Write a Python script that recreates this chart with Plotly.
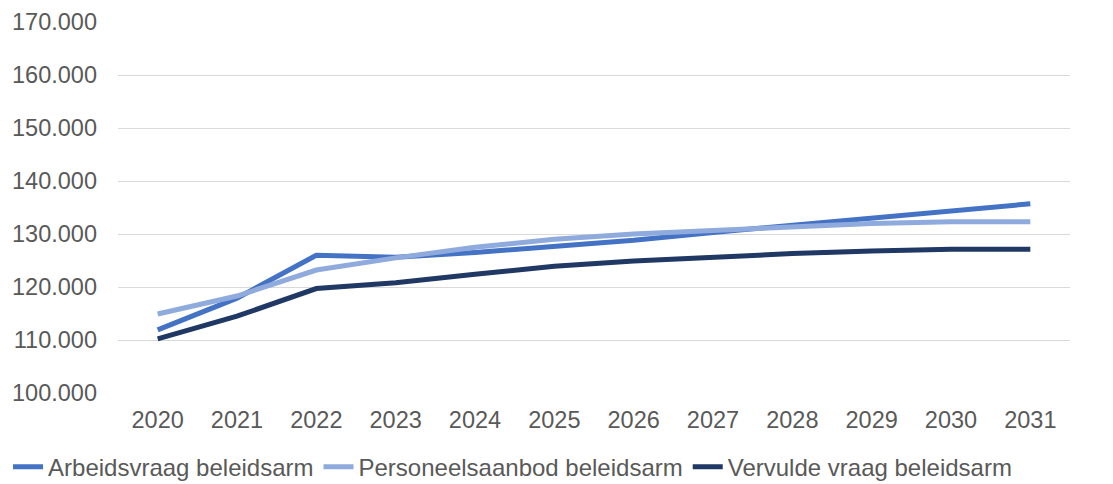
import plotly.graph_objects as go

# Ramingen per jaar (aantal personen)
years = ["2020", "2021", "2022", "2023", "2024", "2025", "2026", "2027", "2028", "2029", "2030", "2031"]
arbeidsvraag = [111900, 117900, 126000, 125600, 126500, 127600, 128800, 130300, 131700, 133100, 134500, 135700]
personeelsaanbod = [114900, 118300, 123200, 125500, 127500, 129000, 130000, 130700, 131500, 132000, 132300, 132300]
vervulde_vraag = [110200, 114500, 119700, 120800, 122400, 123900, 124900, 125700, 126300, 126800, 127100, 127100]

y_ticks = [100000, 110000, 120000, 130000, 140000, 150000, 160000, 170000]

SERIES = [
    ("Arbeidsvraag beleidsarm", arbeidsvraag, "#4472C4"),
    ("Personeelsaanbod beleidsarm", personeelsaanbod, "#8FAADC"),
    ("Vervulde vraag beleidsarm", vervulde_vraag, "#203864"),
]

fig = go.Figure()
for name, values, color in SERIES:
    fig.add_trace(
        go.Scatter(
            x=years,
            y=values,
            mode="lines",
            name=name,
            line=dict(color=color, width=5),
        )
    )

# de pagina heeft 8px body-marge, daarom iets kleiner dan het venster
fig.update_layout(
    width=1105,
    height=476,
    margin=dict(l=110, r=43, t=14, b=91, autoexpand=False),
    plot_bgcolor="white",
    paper_bgcolor="white",
    separators=",.",
    font=dict(family="Liberation Sans, Arial, sans-serif", size=23.5, color="#595959"),
    legend=dict(
        orientation="h",
        x=-0.1155,
        xanchor="left",
        y=-0.2,
        yanchor="middle",
        font=dict(size=24, color="#595959"),
        tracegroupgap=0,
    ),
)
fig.update_xaxes(
    type="category",
    range=[-0.5, len(years) - 0.5],
    showgrid=False,
    showline=False,
    ticks="",
    ticklabelstandoff=10,
    automargin=False,
)
fig.update_yaxes(
    range=[100000, 170000],
    tickvals=y_ticks,
    tickformat=",d",
    showgrid=True,
    gridcolor="#D9D9D9",
    gridwidth=1.3,
    zeroline=False,
    showline=False,
    ticks="",
    ticklabelstandoff=20,
    automargin=False,
)

fig.write_html("out.html")
